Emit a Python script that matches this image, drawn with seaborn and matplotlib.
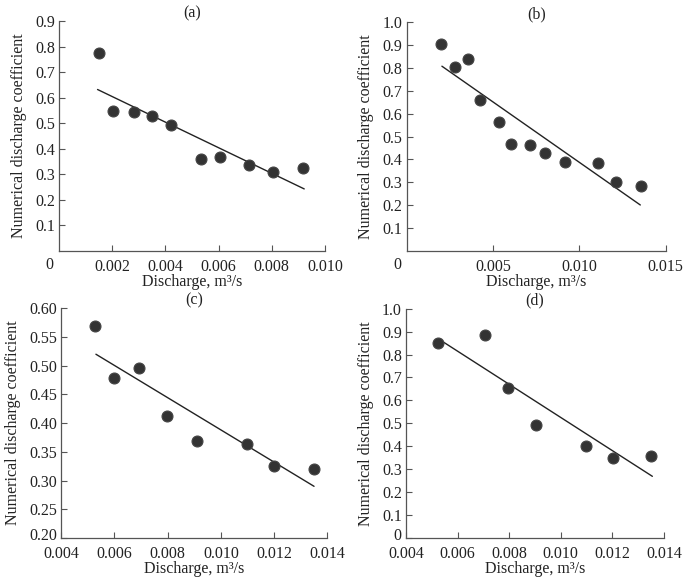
import matplotlib
matplotlib.use("Agg")
import matplotlib.pyplot as plt
import matplotlib.transforms as mtransforms
import seaborn as sns
import pandas as pd

# ---- data ----
a_x = [0.00149, 0.00202, 0.00283, 0.00351, 0.00421, 0.00534, 0.00606, 0.00713, 0.00806, 0.00919]
a_y = [0.776, 0.549, 0.543, 0.527, 0.492, 0.360, 0.366, 0.338, 0.311, 0.326]
a_fit_x = [0.00145, 0.00922]
a_fit_y = [0.632, 0.243]

b_x = [0.00200, 0.00281, 0.00355, 0.00422, 0.00534, 0.00603, 0.00715, 0.00802, 0.00915, 0.01110, 0.01210, 0.01356]
b_y = [0.905, 0.804, 0.837, 0.658, 0.565, 0.467, 0.465, 0.426, 0.390, 0.385, 0.301, 0.286]
b_fit_x = [0.00204, 0.01353]
b_fit_y = [0.807, 0.201]

c_x = [0.00528, 0.00598, 0.00693, 0.00797, 0.00909, 0.01097, 0.01199, 0.01350]
c_y = [0.569, 0.478, 0.496, 0.412, 0.369, 0.364, 0.325, 0.321]
c_fit_x = [0.00531, 0.01350]
c_fit_y = [0.520, 0.290]

d_x = [0.00524, 0.00706, 0.00795, 0.00905, 0.01096, 0.01201, 0.01351]
d_y = [0.852, 0.884, 0.652, 0.492, 0.401, 0.348, 0.356]
d_fit_x = [0.00529, 0.01355]
d_fit_y = [0.866, 0.269]

titles = ["(a)", "(b)", "(c)", "(d)"]
xlabel = "Discharge, m³/s"
ylabel = "Numerical discharge coefficient"

a_xticks = [0.002, 0.004, 0.006, 0.008, 0.010]
a_xticklabels = ["0.002", "0.004", "0.006", "0.008", "0.010"]
a_yticks = [0.1, 0.2, 0.3, 0.4, 0.5, 0.6, 0.7, 0.8, 0.9]
a_yticklabels = ["0.1", "0.2", "0.3", "0.4", "0.5", "0.6", "0.7", "0.8", "0.9"]

b_xticks = [0.005, 0.010, 0.015]
b_xticklabels = ["0.005", "0.010", "0.015"]
b_yticks = [0.1, 0.2, 0.3, 0.4, 0.5, 0.6, 0.7, 0.8, 0.9, 1.0]
b_yticklabels = ["0.1", "0.2", "0.3", "0.4", "0.5", "0.6", "0.7", "0.8", "0.9", "1.0"]

c_xticks = [0.004, 0.006, 0.008, 0.010, 0.012, 0.014]
c_xticklabels = ["0.004", "0.006", "0.008", "0.010", "0.012", "0.014"]
c_yticks = [0.20, 0.25, 0.30, 0.35, 0.40, 0.45, 0.50, 0.55, 0.60]
c_yticklabels = ["0.20", "0.25", "0.30", "0.35", "0.40", "0.45", "0.50", "0.55", "0.60"]

d_xticks = [0.004, 0.006, 0.008, 0.010, 0.012, 0.014]
d_xticklabels = ["0.004", "0.006", "0.008", "0.010", "0.012", "0.014"]
d_yticks = [0.0, 0.1, 0.2, 0.3, 0.4, 0.5, 0.6, 0.7, 0.8, 0.9, 1.0]
d_yticklabels = ["0", "0.1", "0.2", "0.3", "0.4", "0.5", "0.6", "0.7", "0.8", "0.9", "1.0"]

# ---- style ----
sns.set_style("ticks")
plt.rcParams["font.family"] = ["Liberation Serif", "DejaVu Serif"]
FS = 11.5
plt.rcParams["font.size"] = FS
spine_col = "#555555"
text_col = "#222222"

fig = plt.figure(figsize=(6.85, 5.82), dpi=100)

panels = [
    dict(x=a_x, y=a_y, fx=a_fit_x, fy=a_fit_y, rect=[0.0861, 0.5687, 0.3883, 0.3952],
         xlim=(0, 0.010), ylim=(0, 0.9), xt=a_xticks, xtl=a_xticklabels, yt=a_yticks, ytl=a_yticklabels,
         origin=True, pad=2),
    dict(x=b_x, y=b_y, fx=b_fit_x, fy=b_fit_y, rect=[0.5937, 0.5687, 0.3781, 0.3935],
         xlim=(0, 0.015), ylim=(0, 1.0), xt=b_xticks, xtl=b_xticklabels, yt=b_yticks, ytl=b_yticklabels,
         origin=True, pad=2),
    dict(x=c_x, y=c_y, fx=c_fit_x, fy=c_fit_y, rect=[0.0891, 0.0756, 0.3888, 0.3947],
         xlim=(0.004, 0.014), ylim=(0.20, 0.60), xt=c_xticks, xtl=c_xticklabels, yt=c_yticks, ytl=c_yticklabels,
         origin=False, pad=-6),
    dict(x=d_x, y=d_y, fx=d_fit_x, fy=d_fit_y, rect=[0.5927, 0.0756, 0.3766, 0.3940],
         xlim=(0.004, 0.014), ylim=(0, 1.0), xt=d_xticks, xtl=d_xticklabels, yt=d_yticks, ytl=d_yticklabels,
         origin=False, pad=-6),
]

for title, p in zip(titles, panels):
    ax = fig.add_axes(p["rect"])
    pts = pd.DataFrame({"x": p["x"], "y": p["y"]})
    fit = pd.DataFrame({"x": p["fx"], "y": p["fy"]})
    sns.lineplot(data=fit, x="x", y="y", ax=ax, color="#222222", linewidth=1.0, zorder=2)
    sns.scatterplot(data=pts, x="x", y="y", ax=ax, color="#333333", s=62, edgecolor="#444444",
                    linewidth=0.8, zorder=3)
    ax.set_xlim(*p["xlim"])
    ax.set_ylim(*p["ylim"])
    ax.set_xticks(p["xt"])
    ax.set_xticklabels(p["xtl"])
    ax.set_yticks(p["yt"])
    ax.set_yticklabels(p["ytl"])
    ax.tick_params(direction="in", length=4, width=0.8, color=spine_col, labelsize=FS,
                   labelcolor=text_col)
    ax.tick_params(axis="x", pad=6)
    ax.tick_params(axis="y", pad=3)
    for s in ["top", "right"]:
        ax.spines[s].set_visible(False)
    for s in ["left", "bottom"]:
        ax.spines[s].set_color(spine_col)
        ax.spines[s].set_linewidth(0.9)
    ax.set_xlabel(xlabel, fontsize=FS, labelpad=-1, color=text_col)
    ax.set_ylabel(ylabel, fontsize=FS, labelpad=6, color=text_col)
    ax.set_title(title, fontsize=FS, pad=p["pad"], color=text_col)
    if p["origin"]:
        ax.annotate("0", xy=(0, 0), xycoords="axes fraction", xytext=(-7, -4),
                    textcoords="offset points", ha="center", va="top", fontsize=FS, color=text_col)
    # lowest y tick label sits right at the corner: nudge it up slightly
    if p["ylim"][0] == p["yt"][0]:
        lab = ax.get_yticklabels()[0]
        lab.set_transform(lab.get_transform() +
                          mtransforms.ScaledTranslation(0, 3 / 72, fig.dpi_scale_trans))

fig.savefig("out.png", dpi=100)
